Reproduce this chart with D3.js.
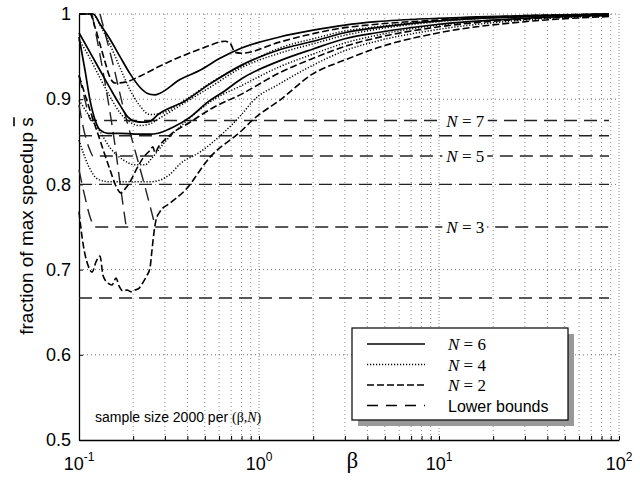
<!DOCTYPE html>
<html>
<head>
<meta charset="utf-8">
<script src="https://cdn.jsdelivr.net/npm/d3@7/dist/d3.min.js"></script>
<style>
body { margin: 0; background: #fff; }
svg { font-family: "Liberation Sans", Arial, sans-serif; }
</style>
</head>
<body>
<div id="chart"></div>
<script>
// Lower bounds (horizontal), one per N
const boundN = [2, 3, 4, 5, 6, 7];
const boundValues = [0.6667, 0.75, 0.8, 0.8333, 0.8571, 0.875];
const boundEnd = 88;
// small-beta lead-in of the odd-N bounds
const lead3 = [[0.1, 0.817], [0.108, 0.785], [0.1151, 0.762], [0.1227, 0.75]];
const lead5 = [[0.1, 0.893], [0.108, 0.858], [0.1151, 0.840], [0.1196, 0.8333]];
const lead7 = [[0.1, 0.928], [0.108, 0.899], [0.1166, 0.875]];
// steep bound branches near beta = 0.12 .. 0.26
const diagA = [[0.1181, 1], [0.1308, 0.952], [0.1449, 0.899], [0.1585, 0.846], [0.1711, 0.793], [0.1824, 0.752]];
const diagB = [[0.1308, 1], [0.1525, 0.946], [0.1778, 0.887], [0.2047, 0.840], [0.2355, 0.793], [0.2643, 0.752]];

// simulated curves: [beta, fraction of max speedup]
const s1 = [[0.1, 1], [0.12, 1], [0.131, 0.988], [0.149, 0.970], [0.169, 0.950], [0.192, 0.930], [0.218, 0.914],
  [0.2385, 0.907], [0.264, 0.905], [0.282, 0.907], [0.364, 0.923], [0.47, 0.934], [0.607, 0.948], [0.8, 0.960],
  [1.3, 0.973], [2, 0.981], [3, 0.987], [4.5, 0.991], [10, 0.995], [30, 0.998], [88, 1]];
const d1 = [[0.1, 1], [0.115, 1], [0.123, 0.984], [0.131, 0.964], [0.1395, 0.944], [0.149, 0.925], [0.1585, 0.919],
  [0.18, 0.920], [0.218, 0.927], [0.282, 0.939], [0.388, 0.952], [0.501, 0.961], [0.6475, 0.968], [0.69, 0.966],
  [0.736, 0.955], [0.8, 0.954], [1.3, 0.967], [2, 0.977], [3, 0.984], [4.5, 0.988], [10, 0.993], [30, 0.998], [88, 1]];
const t0 = [[0.1, 1], [0.1196, 1], [0.1308, 0.987], [0.1487, 0.964], [0.169, 0.937], [0.192, 0.911], [0.2182, 0.892],
  [0.248, 0.882], [0.2818, 0.883], [0.3881, 0.899], [0.5344, 0.919], [0.8, 0.939], [1.3, 0.960], [2, 0.971],
  [3, 0.980], [4.5, 0.985], [10, 0.992], [30, 0.997], [88, 1]];
const s2 = [[0.1, 0.978], [0.1151, 0.955], [0.1308, 0.934], [0.1487, 0.913], [0.169, 0.893], [0.1871, 0.879],
  [0.2047, 0.874], [0.2268, 0.873], [0.248, 0.874], [0.2746, 0.882], [0.3881, 0.898], [0.5344, 0.918], [0.8, 0.940],
  [1.3, 0.958], [2, 0.968], [3, 0.978], [4.5, 0.984], [10, 0.992], [30, 0.997], [88, 1]];
const t1 = [[0.1, 0.970], [0.1151, 0.948], [0.1308, 0.925], [0.1487, 0.903], [0.169, 0.884], [0.192, 0.873],
  [0.2182, 0.869], [0.248, 0.871], [0.2818, 0.878], [0.3881, 0.896], [0.5344, 0.914], [0.8, 0.937], [1.3, 0.954],
  [2, 0.965], [3, 0.975], [4.5, 0.982], [10, 0.991], [30, 0.997], [88, 0.999]];
const s3 = [[0.1, 0.973], [0.108, 0.934], [0.1151, 0.899], [0.1227, 0.876], [0.1308, 0.864], [0.1449, 0.860],
  [0.169, 0.860], [0.2047, 0.859], [0.248, 0.859], [0.2746, 0.860], [0.3327, 0.867], [0.4138, 0.879], [0.5141, 0.896],
  [0.6475, 0.910], [0.8, 0.924], [1.3, 0.945], [2, 0.959], [3, 0.971], [4.5, 0.978], [10, 0.988], [30, 0.995], [88, 0.999]];
const t2 = [[0.1, 0.899], [0.1151, 0.879], [0.1308, 0.862], [0.1487, 0.843], [0.1755, 0.829], [0.2047, 0.823],
  [0.2326, 0.823], [0.2544, 0.831], [0.3005, 0.850], [0.3881, 0.873], [0.5548, 0.899], [0.8, 0.916], [1.3, 0.938],
  [2, 0.953], [3, 0.966], [4.5, 0.975], [10, 0.987], [30, 0.995], [88, 0.999]];
const d2 = [[0.1, 0.928], [0.1151, 0.887], [0.1308, 0.852], [0.1487, 0.817], [0.1605, 0.798], [0.1711, 0.790],
  [0.1824, 0.796], [0.192, 0.803], [0.2101, 0.819], [0.2268, 0.831], [0.248, 0.840], [0.2576, 0.844], [0.2643, 0.837],
  [0.2746, 0.843], [0.3204, 0.858], [0.4138, 0.873], [0.5548, 0.890], [0.8, 0.906], [1.3, 0.931], [2, 0.948],
  [3, 0.962], [4.5, 0.972], [10, 0.985], [30, 0.994], [88, 0.998]];
const t3 = [[0.1, 0.852], [0.1122, 0.823], [0.1275, 0.806], [0.1487, 0.803], [0.192, 0.803], [0.248, 0.803],
  [0.2818, 0.805], [0.3204, 0.812], [0.364, 0.824], [0.4701, 0.838], [0.6306, 0.860], [0.8, 0.882], [0.9261, 0.898],
  [1.3, 0.918], [2, 0.940], [3, 0.957], [4.5, 0.968], [10, 0.982], [30, 0.993], [88, 0.998]];
const d3s = [[0.1, 0.768], [0.1052, 0.731], [0.1122, 0.705], [0.1181, 0.697], [0.1243, 0.709], [0.1308, 0.716],
  [0.136, 0.693], [0.1449, 0.684], [0.1525, 0.682], [0.1605, 0.690], [0.1668, 0.681], [0.1755, 0.675], [0.1848, 0.676],
  [0.1945, 0.674], [0.2047, 0.676], [0.2154, 0.678], [0.2268, 0.685], [0.2385, 0.693], [0.248, 0.702], [0.2544, 0.723],
  [0.2611, 0.744], [0.2677, 0.758], [0.2818, 0.768], [0.3204, 0.778], [0.3881, 0.793], [0.5344, 0.832], [0.8, 0.863],
  [0.9261, 0.876], [1.308, 0.899], [2, 0.930], [3, 0.946], [4.5, 0.960], [10, 0.978], [30, 0.991], [88, 0.997]];

const yTicks = [0.5, 0.6, 0.7, 0.8, 0.9, 1];
const xMajor = [0.1, 1, 10, 100];
const xExp = ["-1", "0", "1", "2"];
const labelled = [7, 5, 3];

// Setting dimensions and margins
const margin = {top: 14, right: 21, bottom: 42, left: 79},
    width = 640 - margin.left - margin.right,
    height = 482 - margin.top - margin.bottom;

const svg = d3.select("#chart")
    .append("svg")
    .attr("width", 640)
    .attr("height", 482)
    .append("g")
    .attr("transform", `translate(${margin.left},${margin.top})`);

const x = d3.scaleLog().domain([0.1, 100]).range([0, width]);
const y = d3.scaleLinear().domain([0.5, 1]).range([height, 0]);

// Grid
svg.append("g")
    .selectAll("line")
    .data(x.ticks().filter(d => d > 0.1))
    .join("line")
    .attr("x1", d => x(d)).attr("x2", d => x(d))
    .attr("y1", 0).attr("y2", height)
    .attr("stroke", "#8a8a8a")
    .attr("stroke-dasharray", d => xMajor.includes(d) ? "1,2" : "1,3");
svg.append("g")
    .selectAll("line")
    .data(yTicks.filter(d => d > 0.5))
    .join("line")
    .attr("x1", 0).attr("x2", width)
    .attr("y1", d => y(d)).attr("y2", d => y(d))
    .attr("stroke", "#777")
    .attr("stroke-dasharray", "1,3");

// Axes
const xAxis = svg.append("g")
    .attr("transform", `translate(0,${height})`)
    .call(d3.axisBottom(x).tickValues(x.ticks()).tickSizeInner(-4).tickSizeOuter(0).tickFormat(""));
xAxis.select(".domain").attr("stroke-width", 1.3);

const yAxis = svg.append("g")
    .call(d3.axisLeft(y).tickValues(yTicks).tickSizeInner(-4).tickSizeOuter(0).tickPadding(8)
        .tickFormat(d => d === 1 ? "1" : d3.format(".1f")(d)));
yAxis.select(".domain").attr("stroke-width", 1.3);
yAxis.selectAll("text").style("font-size", "18px").style("font-family", "Liberation Sans, Arial, sans-serif");

const xl = svg.append("g")
    .selectAll("text")
    .data(xMajor)
    .join("text")
    .attr("x", d => x(d))
    .attr("y", height + 30)
    .attr("text-anchor", "middle")
    .style("font-size", "18px");
xl.append("tspan").text("10");
xl.append("tspan").attr("dy", -9).style("font-size", "12px").text((d, i) => xExp[i]);

// Curves
const clip = svg.append("clipPath").attr("id", "clip")
    .append("rect").attr("x", -1).attr("y", -2).attr("width", width + 2).attr("height", height + 2);
const plot = svg.append("g").attr("clip-path", "url(#clip)");
const line = d3.line().x(d => x(d[0])).y(d => y(d[1])).curve(d3.curveMonotoneX);

const styles = {
    solid: {w: 1.7, dash: null},
    dotted: {w: 1.5, dash: "1.2,1.8"},
    dashed: {w: 1.6, dash: "7,3"},
    bound: {w: 1.4, dash: "13,7"}
};

// lower bounds
const boundPaths = boundN.map((n, i) => {
    let lead = n === 3 ? lead3 : n === 5 ? lead5 : n === 7 ? lead7 : [[0.1, boundValues[i]]];
    return lead.concat([[boundEnd, boundValues[i]]]);
});
const series = [
    ...boundPaths.map(p => ({pts: p, s: "bound"})),
    {pts: diagA, s: "bound"},
    {pts: diagB, s: "bound"},
    {pts: d3s, s: "dashed"},
    {pts: t3, s: "dotted"},
    {pts: d2, s: "dashed"},
    {pts: t2, s: "dotted"},
    {pts: s3, s: "solid"},
    {pts: t1, s: "dotted"},
    {pts: s2, s: "solid"},
    {pts: t0, s: "dotted"},
    {pts: d1, s: "dashed"},
    {pts: s1, s: "solid"}
];
plot.selectAll("path")
    .data(series)
    .join("path")
    .attr("d", d => line(d.pts))
    .attr("fill", "none")
    .attr("stroke", d => d.s === "bound" ? "#222" : "#000")
    .attr("stroke-width", d => styles[d.s].w)
    .attr("stroke-dasharray", d => styles[d.s].dash);

// N labels on the bound lines
labelled.forEach(n => {
    const v = boundValues[boundN.indexOf(n)];
    const g = svg.append("g").attr("transform", `translate(${x(14)},${y(v)})`);
    const bg = g.append("rect").attr("fill", "#fff");
    const t = g.append("text")
        .attr("text-anchor", "middle")
        .attr("y", 6)
        .style("font-family", "Liberation Serif, Times New Roman, serif")
        .style("font-size", "17px");
    t.append("tspan").style("font-style", "italic").text("N");
    t.append("tspan").text(" = " + n);
    const b = t.node().getBBox();
    bg.attr("x", b.x - 3).attr("y", -3).attr("width", b.width + 6).attr("height", 6);
});

// Axis titles
const yt = svg.append("g").attr("transform", `translate(${33 - margin.left},${226 - margin.top}) rotate(-90)`);
const ytext = yt.append("text")
    .attr("text-anchor", "middle")
    .style("font-size", "19px")
    .text("fraction of max speedup s");
const L = ytext.node().getComputedTextLength();
yt.append("line")
    .attr("x1", L / 2 - 9).attr("x2", L / 2)
    .attr("y1", -19).attr("y2", -19)
    .attr("stroke", "#000").attr("stroke-width", 1.6);

svg.append("text")
    .attr("x", x(3.3))
    .attr("y", height + 28)
    .attr("text-anchor", "middle")
    .style("font-family", "Liberation Serif, Times New Roman, serif")
    .style("font-size", "23px")
    .text("β");

// Sample size note
const note = svg.append("text")
    .attr("x", 16)
    .attr("y", 408)
    .style("font-size", "14px");
note.append("tspan").text("sample size 2000 per ");
note.append("tspan").style("font-family", "Liberation Serif, serif").text("(β,");
note.append("tspan").style("font-family", "Liberation Serif, serif").style("font-style", "italic").text("N");
note.append("tspan").style("font-family", "Liberation Serif, serif").text(")");

// Legend
const lg = svg.append("g").attr("transform", "translate(273,314)");
lg.append("rect").attr("x", 6).attr("y", 6).attr("width", 216).attr("height", 92).attr("fill", "#999");
lg.append("rect").attr("width", 216).attr("height", 92).attr("fill", "#fff").attr("stroke", "#000").attr("stroke-width", 1.2);
const legendItems = [
    {lab: "6", s: "solid"},
    {lab: "4", s: "dotted"},
    {lab: "2", s: "dashed"},
    {lab: "Lower bounds", s: "bound"}
];
legendItems.forEach((d, i) => {
    const yy = 16 + i * 20.5;
    lg.append("line")
        .attr("x1", 15).attr("x2", 73).attr("y1", yy).attr("y2", yy)
        .attr("stroke", "#000")
        .attr("stroke-width", styles[d.s].w)
        .attr("stroke-dasharray", d.s === "bound" ? "11,8" : styles[d.s].dash);
    const t = lg.append("text").attr("x", 96).attr("y", yy + 6);
    if (d.s === "bound") {
        t.style("font-size", "16px").text(d.lab);
    } else {
        t.style("font-family", "Liberation Serif, serif").style("font-size", "17px");
        t.append("tspan").style("font-style", "italic").text("N");
        t.append("tspan").text(" = " + d.lab);
    }
});
</script>
</body>
</html>
